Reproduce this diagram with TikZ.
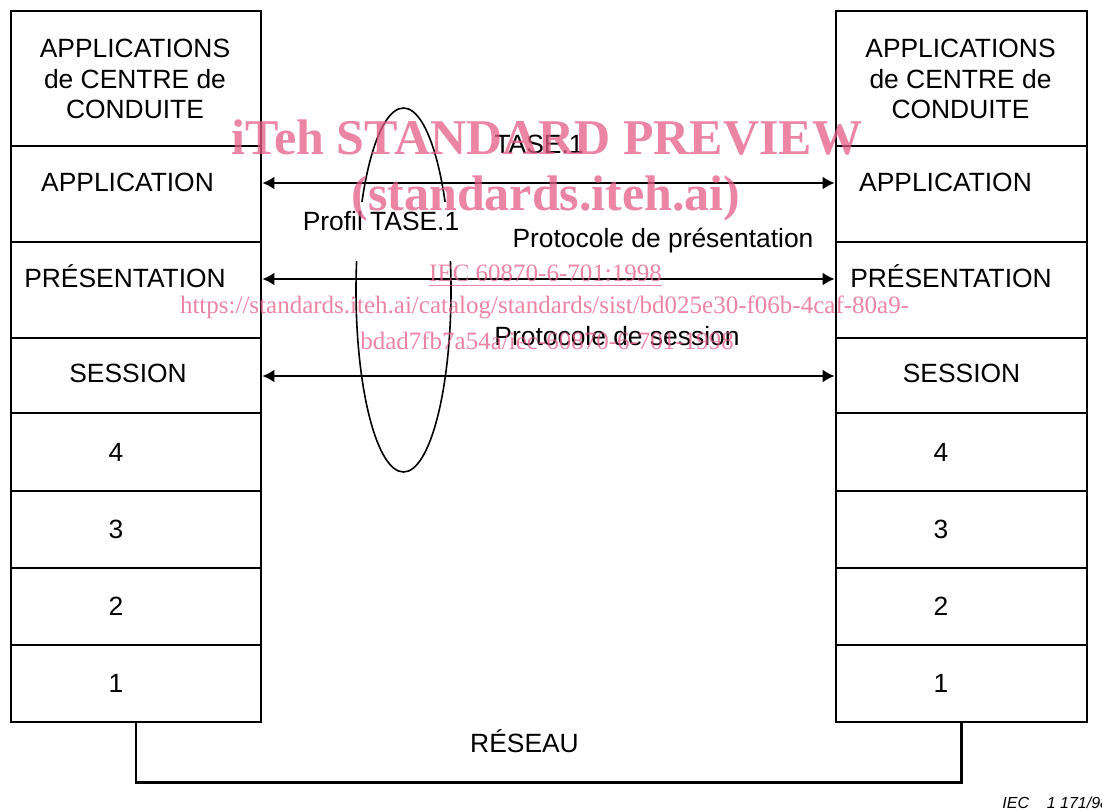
\documentclass[tikz,border=0pt]{standalone}
\usepackage{fontspec}
\setmainfont{Liberation Sans}
\newfontfamily\wmfont{Liberation Serif}
\usetikzlibrary{arrows.meta,shapes.geometric}
\definecolor{wmpink}{RGB}{229,91,133}
\tikzset{
  >={Latex[length=6pt,width=6.5pt]},
  couche/.style={draw,line width=1.4pt,minimum width=125pt,inner sep=0pt},
  txt/.style={font=\fontsize{13.2}{15.25}\selectfont,inner sep=0pt,align=center},
  wm/.style={text=wmpink,opacity=.75,inner sep=0pt,anchor=base}
}

\begin{document}
\begin{tikzpicture}[x=0.5pt,y=-0.5pt]
      \useasboundingbox (0,0) rectangle (1102,812);
      % les deux piles de couches
      \foreach \nom/\y/\h in {top/78.5/67.5,app/194/48,pres/290/48,sess/375.5/37.5,
          n4/452/39,n3/529.5/38.5,n2/606.5/38.5,n1/683.5/38.5}{
        \node[couche,minimum height=\h pt] (l\nom) at (136,\y) {};
        \node[couche,minimum width=125.5pt,minimum height=\h pt] (r\nom) at (961.5,\y) {};
      }
      \node[txt] (ltopt) at (135,79) {APPLICATIONS\\de CENTRE de\\CONDUITE};
      \node[txt] (rtopt) at (960.5,79) {APPLICATIONS\\de CENTRE de\\CONDUITE};
      \node[txt,anchor=base] (lappt) at (127.5,192) {APPLICATION};
      \node[txt,anchor=base] (rappt) at (945.5,192) {APPLICATION};
      \node[txt,anchor=base] (lprest) at (125,288) {PRÉSENTATION};
      \node[txt,anchor=base] (rprest) at (951,288) {PRÉSENTATION};
      \node[txt,anchor=base] (lsesst) at (128,382) {SESSION};
      \node[txt,anchor=base] (rsesst) at (961.5,383) {SESSION};
      \foreach \n/\y in {4/452,3/529.5,2/606.5,1/683}{
        \node[txt] (lnum\n) at (116,\y) {\n};
        \node[txt] (rnum\n) at (941,\y) {\n};
      }
      % profil
      \node[draw,ellipse,line width=0.8pt,minimum width=47.5pt,minimum height=182pt,
        inner sep=0pt] (profil) at (403.5,290) {};
      \node[txt,anchor=base,fill=white,inner ysep=5pt,text height=9.5pt,text depth=10pt,
        minimum width=80pt] (profilt) at (381,231) {Profil TASE.1};
      % protocoles
      \draw[<->,line width=0.9pt] (lapp.east |- 0,183) -- (rapp.west |- 0,183);
      \draw[<->,line width=0.9pt] (lpres.east |- 0,279) -- (rpres.west |- 0,279);
      \draw[<->,line width=0.9pt] (lsess.east |- 0,376) -- (rsess.west |- 0,376);
      \node[txt,anchor=base] (tase) at (539,154) {TASE.1};
      \node[txt,anchor=base] (ppres) at (663,248) {Protocole de présentation};
      \node[txt,anchor=base] (psess) at (617,346) {Protocole de session};
      % reseau
      \draw[line width=1.2pt] (ln1.south) -- ++(0,59) -| (rn1.south);
      \node[txt,anchor=base] (reseau) at (524.5,752) {RÉSEAU};
      \node[anchor=base west,inner sep=0pt,font=\fontsize{8}{9}\selectfont\itshape]
        (iec) at (1002,808) {IEC\ \ \ \ 1 171/98};
      % filigrane
      \node[wm,font=\wmfont\bfseries\fontsize{25}{30}\selectfont] (wm1) at (547,155)
        {iTeh STANDARD PREVIEW};
      \node[wm,font=\wmfont\bfseries\fontsize{25}{30}\selectfont] (wm2) at (546,211)
        {(standards.iteh.ai)};
      \node[wm,font=\wmfont\fontsize{12.5}{15}\selectfont] (wm3) at (545.5,282)
        {\underline{IEC 60870-6-701:1998}};
      \node[wm,font=\wmfont\fontsize{12.5}{15}\selectfont] (wm4) at (544.5,314)
        {https://standards.iteh.ai/catalog/standards/sist/bd025e30-f06b-4caf-80a9-};
      \node[wm,font=\wmfont\fontsize{12.5}{15}\selectfont] (wm5) at (547,350)
        {bdad7fb7a54a/iec-60870-6-701-1998};
\end{tikzpicture}
\end{document}
